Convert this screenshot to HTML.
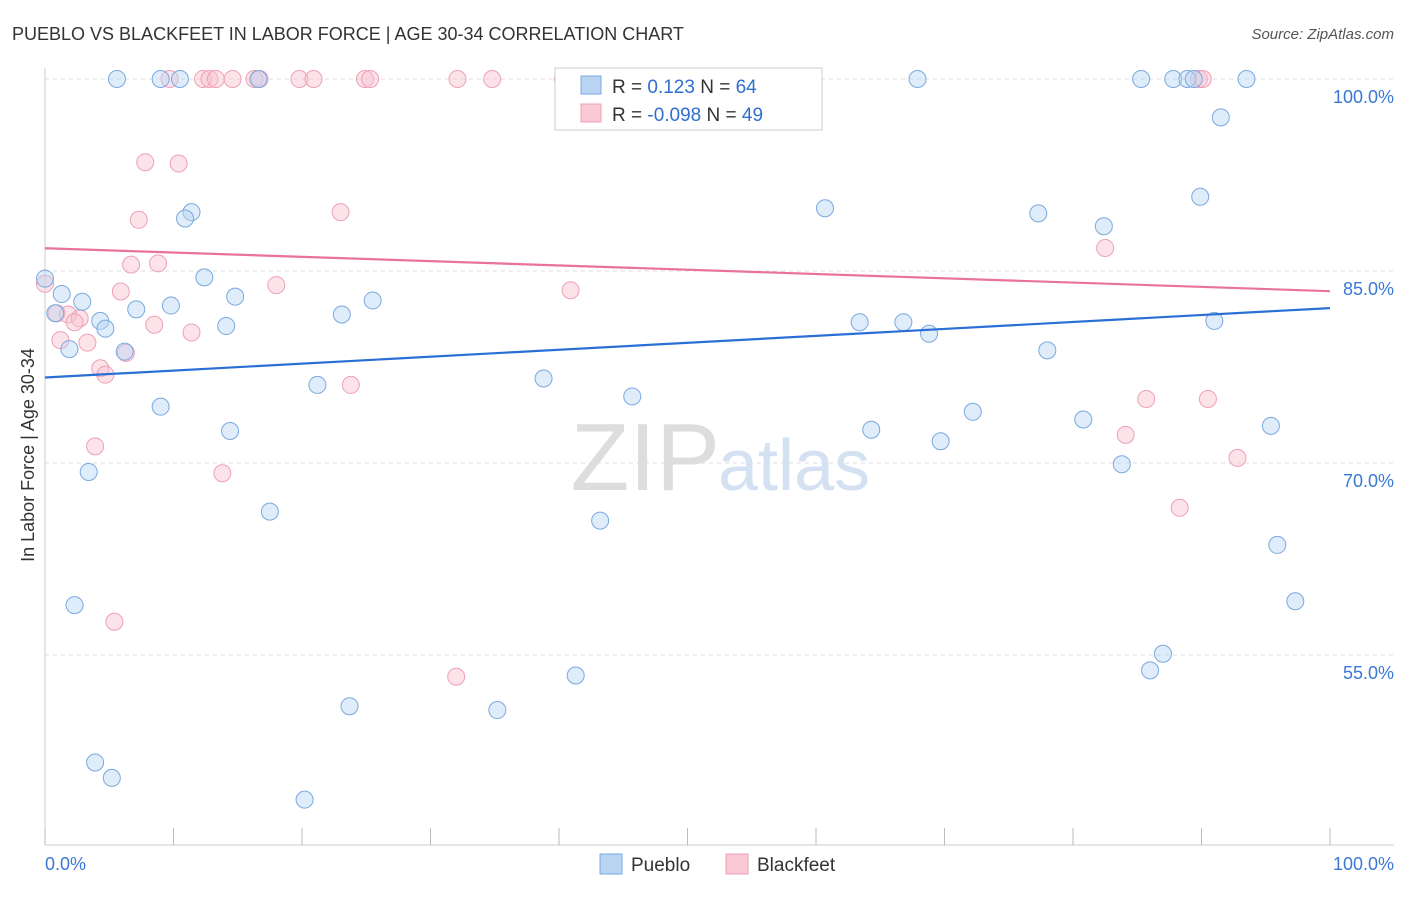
<!DOCTYPE html>
<html><head><meta charset="utf-8"><style>
body{margin:0;background:#fff;font-family:"Liberation Sans",sans-serif}
svg text{font-family:"Liberation Sans",sans-serif}
</style></head><body>
<svg id="chart" width="1406" height="892">
<text x="12" y="40" font-size="18" fill="#333">PUEBLO VS BLACKFEET IN LABOR FORCE | AGE 30-34 CORRELATION CHART</text>
<text x="1394" y="39" font-size="15" fill="#555" font-style="italic" text-anchor="end">Source: ZipAtlas.com</text>
<text x="720" y="490" font-size="96" fill="#ddd" text-anchor="end" font-family="Liberation Serif">ZIP</text>
<text x="718" y="490" font-size="72" fill="#d3e1f3">atlas</text>
<text x="34" y="455" font-size="18" fill="#333" text-anchor="middle" transform="rotate(-90 34 455)">In Labor Force | Age 30-34</text>
<g id="grid"></g><g id="axes"></g><g id="marks"></g>
<g>
<rect x="555" y="68" width="267" height="62" fill="#fff" stroke="#ccc"/>
<rect x="581" y="76" width="20" height="18" fill="#b8d4f2" stroke="#7aa9e0"/>
<rect x="581" y="104" width="20" height="18" fill="#f9c9d6" stroke="#eea0b6"/>
<text x="612" y="93" font-size="19" fill="#333">R = <tspan fill="#2f6fd0"> 0.123</tspan>   N = <tspan fill="#2f6fd0">64</tspan></text>
<text x="612" y="121" font-size="19" fill="#333">R = <tspan fill="#2f6fd0">-0.098</tspan>   N = <tspan fill="#2f6fd0">49</tspan></text>
</g>
<g>
<rect x="600" y="854" width="22" height="20" fill="#b8d4f2" stroke="#7aa9e0"/>
<text x="631" y="871" font-size="19" fill="#333">Pueblo</text>
<rect x="726" y="854" width="22" height="20" fill="#f9c9d6" stroke="#eea0b6"/>
<text x="757" y="871" font-size="19" fill="#333">Blackfeet</text>
</g>
</svg>
<script>
const yTicks=[100,85,70,55];
const blueX=[5.6,9,10.5,16.6,47.1,59.5,67.9,85.3,87.8,88.9,89.4,93.5,91.5,89.9,60.7,77.3,82.4,11.4,10.9,0,1.3,2.9,0.8,7.1,9.8,12.4,14.8,25.5,23.1,4.3,4.7,14.1,63.4,66.8,68.8,91,1.9,6.2,78,38.8,21.2,45.7,9,72.2,80.8,64.3,95.4,14.4,69.7,83.8,3.4,17.5,43.2,95.9,2.3,97.3,87,86,41.3,23.7,35.2,3.9,5.2,20.2];
const blueY=[100,100,100,100,100,100,100,100,100,100,100,100,97,90.8,89.9,89.5,88.5,89.6,89.1,84.4,83.2,82.6,81.7,82,82.3,84.5,83,82.7,81.6,81.1,80.5,80.7,81,81,80.1,81.1,78.9,78.7,78.8,76.6,76.1,75.2,74.4,74,73.4,72.6,72.9,72.5,71.7,69.9,69.3,66.2,65.5,63.6,58.9,59.2,55.1,53.8,53.4,51,50.7,46.6,45.4,43.7];
const pinkX=[9.7,12.3,12.8,13.3,14.6,16.3,16.7,19.8,20.9,24.9,25.3,32.1,34.8,40.3,89.8,90.1,7.8,10.4,7.3,23,82.5,6.7,8.8,18,40.9,5.9,0,0.9,1.8,2.7,2.3,8.5,11.4,1.2,3.3,6.3,4.3,4.7,23.8,85.7,90.5,3.9,84.1,92.8,13.8,88.3,5.4,32];
const pinkY=[100,100,100,100,100,100,100,100,100,100,100,100,100,100,100,100,93.5,93.4,89,89.6,86.8,85.5,85.6,83.9,83.5,83.4,84,81.7,81.6,81.3,81,80.8,80.2,79.6,79.4,78.6,77.4,76.9,76.1,75,75,71.3,72.2,70.4,69.2,66.5,57.6,53.3];
const X=v=>45+v*12.85, Y=v=>79+(100-v)*12.8;
const NS="http://www.w3.org/2000/svg";
function mk(t,a,p){const e=document.createElementNS(NS,t);for(const k in a)e.setAttribute(k,a[k]);p.appendChild(e);return e;}
const grid=document.getElementById('grid'),axes=document.getElementById('axes'),marks=document.getElementById('marks');
yTicks.forEach(t=>{
 const l=mk('line',{x1:45,x2:1394,y1:Y(t),y2:Y(t),stroke:'#ddd','stroke-dasharray':'4,4'},grid);
 
 
 const tx=mk('text',{x:1394,y:Y(t)+24,'font-size':18,fill:'#3a78d6','text-anchor':'end'},axes);
 tx.textContent=t.toFixed(1)+'%';
 
 
});
mk('line',{x1:45,x2:45,y1:68,y2:845,stroke:'#ccc'},axes);
mk('line',{x1:45,x2:1394,y1:845,y2:845,stroke:'#ccc'},axes);
for(let i=0;i<=10;i++){mk('line',{x1:X(i*10),x2:X(i*10),y1:828,y2:845,stroke:'#bbb'},axes);}
[[0,'0.0%','start',45],[100,'100.0%','end',1394]].forEach(d=>{const t=mk('text',{x:d[3],y:870,'font-size':18,fill:'#3a78d6','text-anchor':d[2]},axes);t.textContent=d[1];

});
function reg(xs,ys){const n=xs.length,mx=xs.reduce((a,b)=>a+b)/n,my=ys.reduce((a,b)=>a+b)/n;let sxy=0,sxx=0;for(let i=0;i<n;i++){sxy+=(xs[i]-mx)*(ys[i]-my);sxx+=(xs[i]-mx)**2;}const b=sxy/sxx;return [my-b*mx,b];}
function series(xs,ys,fill,stroke,line,name){
 xs.forEach((x,i)=>{const c=mk('circle',{cx:X(x),cy:Y(ys[i]),r:8.5,fill:fill,'fill-opacity':0.45,stroke:stroke,'stroke-width':1},marks);
 
 });
 const [a,b]=reg(xs,ys);
 const l=mk('line',{x1:X(0),y1:Y(a),x2:X(100),y2:Y(a+100*b),stroke:line,'stroke-width':2.2},marks);
 
 
}
series(pinkX,pinkY,'#f9c0d0','#eea0b6','#e8729a','blackfeet');
series(blueX,blueY,'#b8d4f2','#7aa9e0','#2a6fd6','pueblo');
</script>
</body></html>
